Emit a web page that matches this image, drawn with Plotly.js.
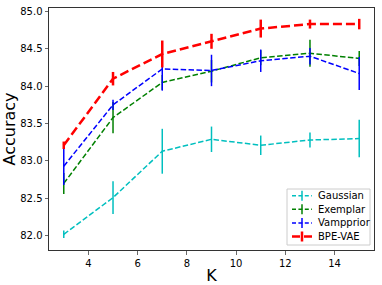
<!DOCTYPE html>
<html><head><meta charset="utf-8">
<script src="https://cdn.plot.ly/plotly-3.0.1.min.js"></script>
<style>html,body{margin:0;padding:0;background:#fff}#c{width:382px;height:285px}</style>
</head><body><div id="c"></div>
<script>
const K = [3, 5, 7, 9, 11, 13, 15];
const gaussian = [82.02, 82.51, 83.13, 83.29, 83.21, 83.28, 83.30];
const gaussianErr = [0.05, 0.22, 0.30, 0.17, 0.13, 0.10, 0.25];
const exemplar = [82.70, 83.58, 84.05, 84.20, 84.38, 84.44, 84.37];
const exemplarErr = [0.14, 0.21, 0.10, 0.15, 0.10, 0.18, 0.10];
const vampprior = [82.93, 83.75, 84.23, 84.21, 84.34, 84.40, 84.17];
const vamppriorErr = [0.25, 0.07, 0.29, 0.21, 0.15, 0.11, 0.22];
const bpevae = [83.21, 84.10, 84.43, 84.60, 84.77, 84.83, 84.83];
const bpevaeErr = [0.05, 0.09, 0.18, 0.10, 0.12, 0.06, 0.07];
const names = ['Gaussian', 'Exemplar', 'Vampprior', 'BPE-VAE'];
const colors = ['#00bfbf', '#008000', '#0000ff', '#ff0000'];
const widths = [1.5, 1.5, 1.5, 2.5];
const dashes = ['5.5px,2.4px', '5.5px,2.4px', '5.5px,2.4px', '9px,4px'];

const W = 382, H = 285, M = {l: 49, r: 8, t: 8, b: 35};
const PW = W - M.l - M.r, PH = H - M.t - M.b;
const px = x => (x - M.l) / PW;
const py = y => (H - M.b - y) / PH;

function tr(i, y, e) {
  return {x: K, y: y, name: names[i], type: 'scatter', mode: 'lines', showlegend: false,
    line: {color: colors[i], width: widths[i], dash: dashes[i]},
    error_y: {type: 'data', array: e, visible: true, color: colors[i], thickness: widths[i], width: 0}};
}
const data = [
  tr(0, gaussian, gaussianErr),
  tr(1, exemplar, exemplarErr),
  tr(2, vampprior, vamppriorErr),
  tr(3, bpevae, bpevaeErr)
];

// custom legend (matplotlib-like, compact)
const shapes = [{type: 'rect', xref: 'paper', yref: 'paper', x0: px(287), x1: px(370), y0: py(245), y1: py(189),
  line: {color: '#cccccc', width: 1}, fillcolor: 'rgba(255,255,255,0.8)', layer: 'above'}];
const annotations = [];
const rowY = [195.7, 209.3, 222.9, 236.5];
names.forEach((n, i) => {
  const y = rowY[i];
  shapes.push({type: 'line', xref: 'paper', yref: 'paper', x0: px(292), x1: px(312), y0: py(y), y1: py(y),
    line: {color: colors[i], width: widths[i], dash: i === 3 ? '8px,4px' : '4px,2.4px'}, layer: 'above'});
  shapes.push({type: 'line', xref: 'paper', yref: 'paper', x0: px(302), x1: px(302), y0: py(y - 5), y1: py(y + 5),
    line: {color: colors[i], width: widths[i]}, layer: 'above'});
  annotations.push({xref: 'paper', yref: 'paper', x: px(316), y: py(y), xanchor: 'left', yanchor: 'middle',
    text: n, showarrow: false, font: {family: 'DejaVu Sans', size: 10, color: '#000'}});
});

const layout = {
  width: W, height: H,
  margin: M,
  paper_bgcolor: '#fff', plot_bgcolor: '#fff',
  font: {family: 'DejaVu Sans', size: 10, color: '#000'},
  showlegend: false,
  shapes: shapes, annotations: annotations,
  xaxis: {range: [2.4, 15.6], tickvals: [4, 6, 8, 10, 12, 14], ticks: 'outside', ticklen: 3.5,
    tickwidth: 0.8, showgrid: false, zeroline: false, showline: true, linecolor: '#333', linewidth: 1, mirror: true,
    title: {text: 'K', font: {size: 16}, standoff: 10}},
  yaxis: {range: [81.81, 85.045], tickvals: [82.0, 82.5, 83.0, 83.5, 84.0, 84.5, 85.0],
    ticktext: ['82.0', '82.5', '83.0', '83.5', '84.0', '84.5', '85.0'], ticks: 'outside', ticklen: 3.5,
    tickwidth: 0.8, showgrid: false, zeroline: false, showline: true, linecolor: '#333', linewidth: 1, mirror: true,
    title: {text: 'Accuracy', font: {size: 16}, standoff: 6}}
};
Plotly.newPlot('c', data, layout, {displayModeBar: false, staticPlot: true});
</script></body></html>
